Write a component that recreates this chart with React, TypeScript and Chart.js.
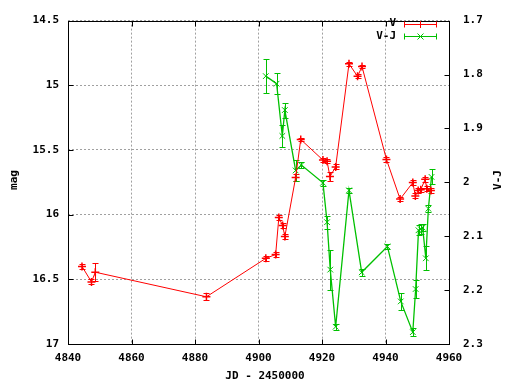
import React, { useEffect, useRef } from "react";
import { Chart, registerables } from "chart.js";
Chart.register(...registerables);

// V magnitude series
const vJD = [4844.4, 4847.4, 4848.6, 4883.6, 4902.3, 4905.4, 4906.4, 4907.6, 4908.3, 4911.7, 4913.3, 4920.3, 4921.6, 4922.5, 4924.3, 4928.5, 4931.2, 4932.6, 4940.3, 4944.6, 4948.6, 4949.4, 4950.3, 4951.1, 4952.5, 4953.0, 4954.3];
const vMag = [16.40, 16.52, 16.445, 16.635, 16.338, 16.308, 16.023, 16.084, 16.169, 15.713, 15.419, 15.578, 15.588, 15.706, 15.631, 14.834, 14.931, 14.855, 15.573, 15.880, 15.752, 15.855, 15.814, 15.807, 15.726, 15.80, 15.814];
const vErr = [0.02, 0.02, 0.07, 0.028, 0.02, 0.02, 0.02, 0.02, 0.02, 0.025, 0.015, 0.015, 0.015, 0.035, 0.02, 0.015, 0.015, 0.015, 0.02, 0.015, 0.02, 0.02, 0.02, 0.015, 0.02, 0.02, 0.02];

// V-J colour series
const vjJD = [4902.3, 4905.7, 4907.5, 4908.3, 4911.7, 4913.5, 4920.3, 4921.6, 4922.6, 4924.3, 4928.5, 4932.5, 4940.6, 4944.8, 4948.6, 4949.5, 4950.4, 4951.1, 4951.7, 4952.7, 4953.5, 4954.5];
const vjVal = [1.803, 1.817, 1.914, 1.866, 1.978, 1.968, 2.001, 2.074, 2.162, 2.268, 2.015, 2.167, 2.119, 2.221, 2.278, 2.198, 2.089, 2.087, 2.084, 2.141, 2.049, 1.990];
const vjErr = [0.031, 0.019, 0.021, 0.014, 0.019, 0.005, 0.005, 0.012, 0.037, 0.006, 0.005, 0.006, 0.005, 0.015, 0.007, 0.017, 0.009, 0.009, 0.007, 0.022, 0.007, 0.014];

// tick labels
const xTicks = [4840, 4860, 4880, 4900, 4920, 4940, 4960];
const magTicks = [14.5, 15, 15.5, 16, 16.5, 17];
const vjTicks = [1.7, 1.8, 1.9, 2, 2.1, 2.2, 2.3];

const seriesNames = ["V", "V-J"];
const axisTitles = { x: "JD - 2450000", y: "mag", y2: "V-J" };

const RED = "#ff0000";
const GREEN = "#00c000";
const FONT = "bold 11px 'DejaVu Sans Mono', monospace";
const tickFont = { family: "'DejaVu Sans Mono', monospace", size: 11, weight: "bold" };

const errs = [vErr, vjErr];

const gnuPlugin = {
  id: "gnu",
  beforeDatasetsDraw(chart: any) {
    const ctx = chart.ctx;
    const xs = chart.scales.x;
    ctx.save();
    chart.data.datasets.forEach((ds: any, i: number) => {
      const ys = chart.scales[ds.yAxisID];
      ctx.strokeStyle = ds.borderColor;
      ctx.lineWidth = 1;
      ds.data.forEach((p: any, j: number) => {
        const e = errs[i][j];
        const x = Math.round(xs.getPixelForValue(p.x)) + 0.5;
        const y1 = Math.round(ys.getPixelForValue(p.y - e)) + 0.5;
        const y2 = Math.round(ys.getPixelForValue(p.y + e)) + 0.5;
        ctx.beginPath();
        ctx.moveTo(x, y1);
        ctx.lineTo(x, y2);
        ctx.moveTo(x - 3, y1);
        ctx.lineTo(x + 3, y1);
        ctx.moveTo(x - 3, y2);
        ctx.lineTo(x + 3, y2);
        ctx.stroke();
      });
    });
    ctx.restore();
  },
  afterDraw(chart: any) {
    const ctx = chart.ctx;
    const a = chart.chartArea;
    const xs = chart.scales.x;
    const yl = chart.scales.y;
    const yr = chart.scales.y2;
    ctx.save();
    ctx.strokeStyle = "#000";
    ctx.lineWidth = 1;
    const L = Math.round(a.left) + 0.5, R = Math.round(a.right) + 0.5;
    const T = Math.round(a.top) + 0.5, B = Math.round(a.bottom) + 0.5;
    ctx.strokeRect(L, T, R - L, B - T);
    ctx.beginPath();
    xTicks.forEach((v) => {
      const x = Math.round(xs.getPixelForValue(v)) + 0.5;
      ctx.moveTo(x, B); ctx.lineTo(x, B - 5);
      ctx.moveTo(x, T); ctx.lineTo(x, T + 5);
    });
    magTicks.forEach((v) => {
      const y = Math.round(yl.getPixelForValue(v)) + 0.5;
      ctx.moveTo(L, y); ctx.lineTo(L + 5, y);
    });
    vjTicks.forEach((v) => {
      const y = Math.round(yr.getPixelForValue(v)) + 0.5;
      ctx.moveTo(R, y); ctx.lineTo(R - 5, y);
    });
    ctx.stroke();

    // titles
    ctx.fillStyle = "#000";
    ctx.font = FONT;
    ctx.textAlign = "center";
    ctx.textBaseline = "middle";
    ctx.fillText(axisTitles.x, 265, 376);
    ctx.save();
    ctx.translate(14, 180);
    ctx.rotate(-Math.PI / 2);
    ctx.fillText(axisTitles.y, 0, 0);
    ctx.restore();
    ctx.save();
    ctx.translate(498, 180);
    ctx.rotate(-Math.PI / 2);
    ctx.fillText(axisTitles.y2, 0, 0);
    ctx.restore();

    // legend
    const cols = [RED, GREEN];
    seriesNames.forEach((name, i) => {
      const y = 23.5 + i * 12.5;
      const yy = Math.round(y) + 0.5;
      ctx.fillStyle = "#000";
      ctx.textAlign = "right";
      ctx.fillText(name, 396, y);
      ctx.strokeStyle = cols[i];
      ctx.beginPath();
      ctx.moveTo(404.5, yy); ctx.lineTo(436.5, yy);
      ctx.moveTo(404.5, yy - 3); ctx.lineTo(404.5, yy + 3);
      ctx.moveTo(436.5, yy - 3); ctx.lineTo(436.5, yy + 3);
      const cx = 420.5;
      if (i === 0) {
        ctx.moveTo(cx, yy - 3.5); ctx.lineTo(cx, yy + 3.5);
      } else {
        ctx.moveTo(cx - 3, yy - 3); ctx.lineTo(cx + 3, yy + 3);
        ctx.moveTo(cx - 3, yy + 3); ctx.lineTo(cx + 3, yy - 3);
      }
      ctx.stroke();
    });
    ctx.restore();
  },
};

export default function App() {
  const ref = useRef<HTMLCanvasElement | null>(null);
  useEffect(() => {
    document.body.style.margin = "0";
    const canvas = ref.current!;
    const chart = new Chart(canvas, {
      type: "scatter",
      data: {
        datasets: [
          {
            label: seriesNames[0],
            data: vJD.map((x, i) => ({ x, y: vMag[i] })),
            yAxisID: "y",
            showLine: true,
            borderColor: RED,
            backgroundColor: RED,
            borderWidth: 1,
            pointStyle: "cross",
            pointRadius: 4,
            pointBorderWidth: 1.5,
          },
          {
            label: seriesNames[1],
            data: vjJD.map((x, i) => ({ x, y: vjVal[i] })),
            yAxisID: "y2",
            showLine: true,
            borderColor: GREEN,
            backgroundColor: GREEN,
            borderWidth: 1.3,
            pointStyle: "crossRot",
            pointRadius: 4,
            pointBorderWidth: 1,
          },
        ],
      },
      options: {
        responsive: false,
        animation: false,
        layout: { padding: { top: 13, left: 0, right: 0, bottom: 0 } },
        plugins: { legend: { display: false }, tooltip: { enabled: false } },
        scales: {
          x: {
            type: "linear",
            min: 4840,
            max: 4960,
            afterBuildTicks: (s: any) => { s.ticks = xTicks.map((v) => ({ value: v })); },
            afterFit: (s: any) => { s.height = 40; },
            grid: { color: "#a0a0a0", drawTicks: false },
            border: { display: false, dash: [2, 2] },
            ticks: { color: "#000", font: tickFont, padding: 8, maxRotation: 0, callback: (v: any) => String(v) },
          },
          y: {
            type: "linear",
            position: "left",
            reverse: true,
            min: 14.5,
            max: 17,
            afterBuildTicks: (s: any) => { s.ticks = magTicks.map((v) => ({ value: v })); },
            afterFit: (s: any) => { s.width = 68; },
            grid: { color: "#a0a0a0", drawTicks: false },
            border: { display: false, dash: [2, 2] },
            ticks: { color: "#000", font: tickFont, padding: 9, callback: (v: any) => String(v) },
          },
          y2: {
            type: "linear",
            position: "right",
            reverse: true,
            min: 1.7,
            max: 2.3,
            afterBuildTicks: (s: any) => { s.ticks = vjTicks.map((v) => ({ value: v })); },
            afterFit: (s: any) => { s.width = 63; },
            grid: { display: false, drawTicks: false },
            border: { display: false },
            ticks: { color: "#000", font: tickFont, padding: 14, callback: (v: any) => String(v) },
          },
        },
      },
      plugins: [gnuPlugin],
    } as any);
    return () => chart.destroy();
  }, []);
  return (
    <div style={{ width: 512, height: 384 }}>
      <canvas ref={ref} width={512} height={384} />
    </div>
  );
}
